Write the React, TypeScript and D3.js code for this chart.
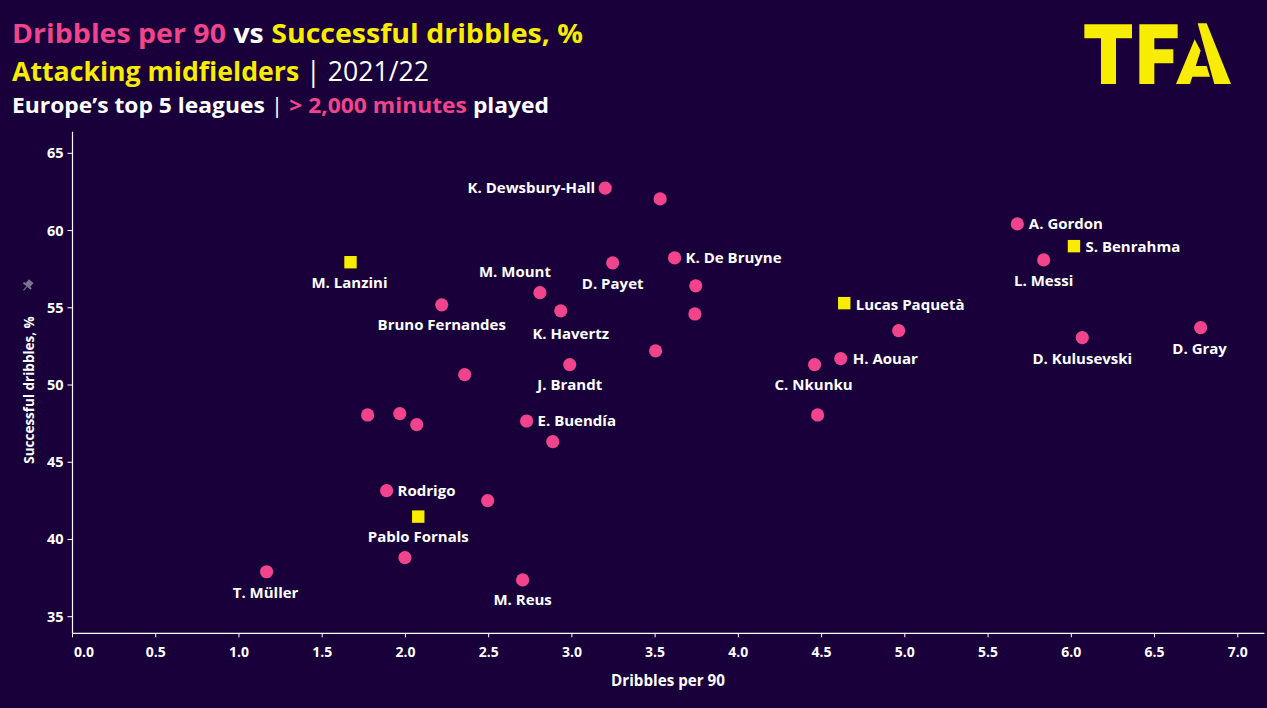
import React from "react";
import * as d3 from "d3";

const players = [
  "K. Dewsbury-Hall", "", "M. Lanzini", "D. Payet", "K. De Bruyne", "", "", "M. Mount",
  "K. Havertz", "Bruno Fernandes", "", "J. Brandt", "", "", "", "", "E. Buendía", "",
  "Rodrigo", "", "Pablo Fornals", "", "T. Müller", "M. Reus", "A. Gordon", "S. Benrahma",
  "L. Messi", "Lucas Paquetà", "", "D. Kulusevski", "D. Gray", "C. Nkunku", "H. Aouar", "",
];
const dribblesPer90 = [
  3.2, 3.53, 1.67, 3.245, 3.617, 3.744, 3.739, 2.808,
  2.933, 2.218, 3.503, 2.987, 2.356, 1.773, 1.966, 2.068, 2.728, 2.885,
  1.887, 2.494, 2.077, 1.997, 1.166, 2.704, 5.676, 6.016,
  5.834, 4.636, 4.963, 6.066, 6.777, 4.458, 4.615, 4.476,
];
const successfulPct = [
  62.75, 62.05, 57.95, 57.91, 58.23, 56.42, 54.6, 55.98,
  54.8, 55.19, 52.21, 51.32, 50.67, 48.06, 48.15, 47.44, 47.67, 46.33,
  43.16, 42.51, 41.48, 38.82, 37.91, 37.38, 60.43, 58.99,
  58.1, 55.3, 53.52, 53.07, 53.72, 51.32, 51.71, 48.06,
];
const highlighted = ["M. Lanzini", "Pablo Fornals", "S. Benrahma", "Lucas Paquetà"];

const xTicks = [0, 0.5, 1, 1.5, 2, 2.5, 3, 3.5, 4, 4.5, 5, 5.5, 6, 6.5, 7];
const yTicks = [35, 40, 45, 50, 55, 60, 65];

// label placement: side + offsets (styling)
const labelPlacement: Record<string, [string, number, number]> = {
  "K. Dewsbury-Hall": ["left", -10, 0],
  "M. Lanzini": ["below", -1, 20],
  "D. Payet": ["below", 0, 21],
  "K. De Bruyne": ["right", 11, 0],
  "M. Mount": ["below", -25, -21],
  "K. Havertz": ["below", 10, 23],
  "Bruno Fernandes": ["below", 0, 19.5],
  "J. Brandt": ["below", 0, 19.5],
  "E. Buendía": ["right", 11, 0],
  "Rodrigo": ["right", 11, 0],
  "Pablo Fornals": ["below", 0, 20],
  "T. Müller": ["below", -1, 20.5],
  "M. Reus": ["below", 0, 19.5],
  "A. Gordon": ["right", 11.5, 0],
  "S. Benrahma": ["right", 11.5, 0],
  "L. Messi": ["below", 0, 20.5],
  "Lucas Paquetà": ["right", 11.5, 1],
  "D. Kulusevski": ["below", 0, 21],
  "D. Gray": ["below", -1, 21.5],
  "C. Nkunku": ["below", -1, 19.5],
  "H. Aouar": ["right", 12, 0],
};

const BG = "#19003a";
const PINK = "#f2448d";
const YELLOW = "#f8ec00";
const WHITE = "#ffffff";
const FONT = "'Open Sans', 'Noto Sans', sans-serif";

const W = 1267;
const H = 708;

export default function App() {
  const x = d3.scaleLinear().domain([0, 7.16]).range([72.5, 1264.4]);
  const y = d3.scaleLinear().domain([33.925, 66.4]).range([633.3, 131.7]);
  const x0 = x(0);
  const yb = y(33.925);
  const T = (zx: number, zy: number) => `${1070 + zx / 3},${10 + zy / 3}`;
  const poly = (pts: [number, number][]) => pts.map(([a, b]) => T(a, b)).join(" ");

  return (
    <svg
      width={W}
      height={H}
      style={{ position: "absolute", left: 0, top: 0, display: "block" }}
      fontFamily={FONT}
    >
      <rect x={0} y={0} width={W} height={H} fill={BG} />

      {/* Titles */}
      <text x={12} y={43} fontSize={27} fontWeight={700} textLength={571} lengthAdjust="spacingAndGlyphs">
        <tspan fill={PINK}>Dribbles per 90</tspan>
        <tspan fill={WHITE}> vs </tspan>
        <tspan fill={YELLOW}>Successful dribbles, %</tspan>
      </text>
      <text x={12} y={81} fontSize={27} fontWeight={700} textLength={417} lengthAdjust="spacingAndGlyphs">
        <tspan fill={YELLOW}>Attacking midfielders</tspan>
        <tspan fill={WHITE} fontWeight={500}> | 2021/22</tspan>
      </text>
      <text x={12} y={113} fontSize={21.5} fontWeight={700} textLength={537} lengthAdjust="spacingAndGlyphs">
        <tspan fill={WHITE}>Europe’s top 5 leagues </tspan>
        <tspan fill={WHITE} fontWeight={400}>|</tspan>
        <tspan fill={PINK}> &gt; 2,000 minutes</tspan>
        <tspan fill={WHITE}> played</tspan>
      </text>

      {/* TFA logo */}
      <g fill={YELLOW}>
        <polygon points={poly([[43, 43], [186, 43], [186, 85], [138, 85], [138, 222], [93, 222], [93, 85], [43, 85]])} />
        <polygon points={poly([[208, 43], [323, 43], [323, 85], [253, 85], [253, 118], [310, 118], [310, 160], [253, 160], [253, 222], [208, 222]])} />
        <polygon points={poly([[383, 40], [410, 40], [483, 222], [433, 222]])} />
        <polygon points={poly([[374, 88], [392, 122], [360, 222], [318, 222]])} />
        <polygon points={poly([[370, 168], [410, 168], [420, 200], [363, 200]])} />
      </g>

      {/* Axes */}
      <line x1={x0} x2={x0} y1={131.7} y2={yb} stroke={WHITE} strokeWidth={1.2} />
      <line x1={x0} x2={1264.4} y1={yb} y2={yb} stroke={WHITE} strokeWidth={1.2} />
      {xTicks.map((t, i) => (
        <g key={"xt" + t}>
          <line x1={x(t)} x2={x(t)} y1={yb} y2={yb + 4} stroke={WHITE} strokeWidth={1} />
          <text
            x={i === 0 ? x(t) + 1.5 : x(t)}
            y={656.5}
            textAnchor={i === 0 ? "start" : "middle"}
            fill={WHITE}
            fontSize={14}
            fontWeight={700}
          >
            {t.toFixed(1)}
          </text>
        </g>
      ))}
      {yTicks.map((t) => (
        <g key={"yt" + t}>
          <line x1={x0 - 5} x2={x0} y1={y(t)} y2={y(t)} stroke={WHITE} strokeWidth={1} />
          <text x={63.5} y={y(t) + 5} textAnchor="end" fill={WHITE} fontSize={14.5} fontWeight={700}>
            {t}
          </text>
        </g>
      ))}
      <text x={668} y={686} textAnchor="middle" fill={WHITE} fontSize={15.2} fontWeight={700}>
        Dribbles per 90
      </text>
      <text
        transform={`translate(33.5,390) rotate(-90)`}
        textAnchor="middle"
        fill={WHITE}
        fontSize={13.5}
        fontWeight={700}
      >
        Successful dribbles, %
      </text>
      {/* pin icon */}
      <g transform="translate(28,285) rotate(40)" fill="#7a7390">
        <rect x={-3} y={-5} width={6} height={6} />
        <rect x={-5} y={0} width={10} height={2} />
        <rect x={-0.6} y={2} width={1.2} height={5} />
      </g>

      {/* Points */}
      {players.map((p, i) => {
        const cx = x(dribblesPer90[i]);
        const cy = y(successfulPct[i]);
        return highlighted.includes(p) ? (
          <rect key={"pt" + i} x={cx - 6.2} y={cy - 6.2} width={12.4} height={12.4} fill={YELLOW} />
        ) : (
          <circle key={"pt" + i} cx={cx} cy={cy} r={6.6} fill={PINK} />
        );
      })}

      {/* Labels */}
      {players.map((p, i) => {
        if (!p) return null;
        const pl = labelPlacement[p] || ["right", 11, 0];
        const cx = x(dribblesPer90[i]) + pl[1];
        const cy = y(successfulPct[i]) + pl[2];
        const anchor = pl[0] === "left" ? "end" : pl[0] === "right" ? "start" : "middle";
        return (
          <text
            key={"lb" + i}
            x={cx}
            y={cy}
            dy="0.36em"
            textAnchor={anchor}
            fill={WHITE}
            fontSize={15}
            fontWeight={700}
          >
            {p}
          </text>
        );
      })}
    </svg>
  );
}
